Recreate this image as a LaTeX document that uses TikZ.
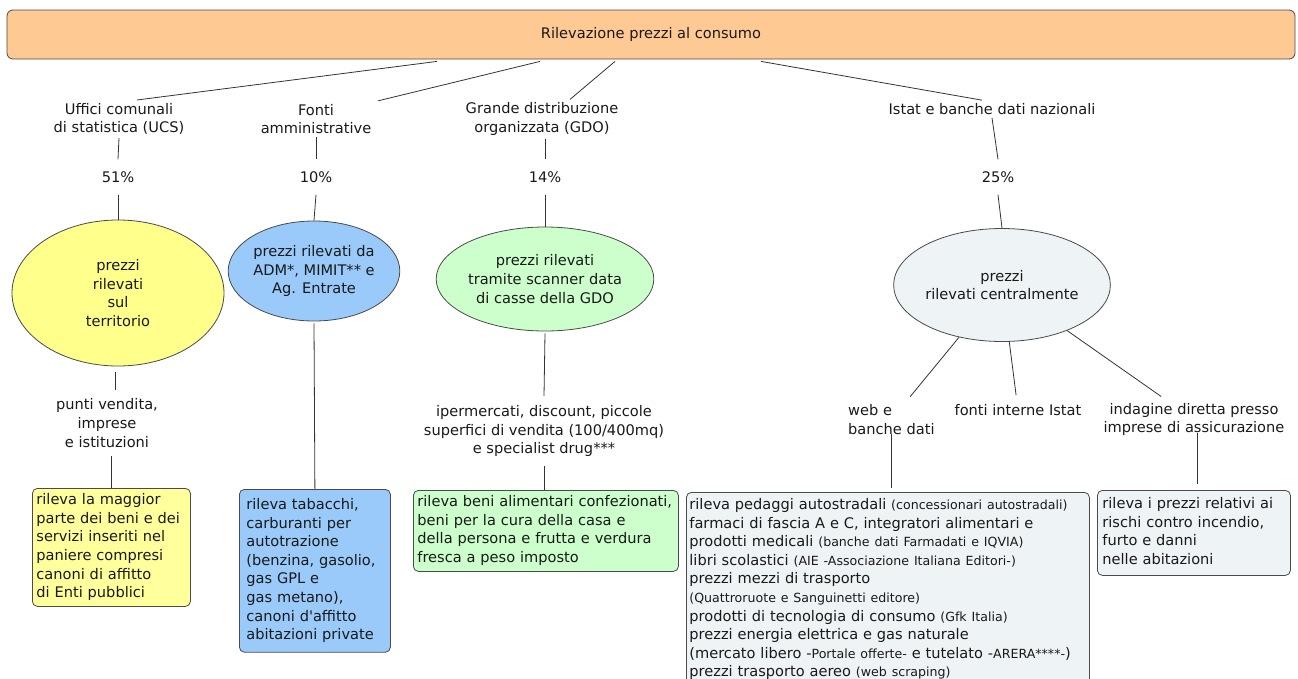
\documentclass[tikz,border=0pt]{standalone}
\usepackage{fontspec}
\setmainfont{DejaVu Sans}
\usetikzlibrary{shapes.geometric}
\definecolor{orng}{HTML}{FFC994}
\definecolor{ylell}{HTML}{FFFF8C}
\definecolor{ylbox}{HTML}{FFFF9C}
\definecolor{blell}{HTML}{99CAFA}
\definecolor{blbx}{HTML}{99CAFA}
\definecolor{grn}{HTML}{CCFFCC}
\definecolor{gry}{HTML}{EEF3F6}
\definecolor{edge}{HTML}{4A4A4A}
\definecolor{linec}{HTML}{333333}
\newcommand\mainsz{\fontsize{14.6}{18.6}\selectfont}
\newcommand\smsz{\fontsize{12.6}{18.6}\selectfont}
\newcommand\cardtext[1]{\noindent\begin{tabular}{@{}l@{}}#1\end{tabular}}
\begin{document}
\begin{tikzpicture}[x=1pt,y=-1pt,
  every node/.style={font=\mainsz, text=black!90},
  lbl/.style={align=center, inner xsep=2pt, inner ysep=3pt},
  pct/.style={inner xsep=2pt, inner ysep=12pt},
  lblt/.style={align=center, inner xsep=2pt, inner ysep=9pt},
  oval/.style={ellipse, draw=edge, line width=0.8pt, inner sep=0pt, align=center},
  card/.style={draw=edge, line width=0.8pt, rounded corners=5pt, anchor=north west},
  link/.style={draw=linec, line width=0.8pt}]
\useasboundingbox (0,0) rectangle (1298,678);
\clip (0,0) rectangle (1298,678);

% top
\node[draw=edge, line width=0.8pt, fill=orng, rounded corners=6pt, minimum width=1288pt, minimum height=49pt, inner sep=0pt] (top) at (651,34.5) {Rilevazione prezzi al consumo};

% first level labels
\node[lbl] (ucs) at (119,119) {Uffici comunali\\di statistica (UCS)};
\node[lbl] (fonti) at (316,119) {Fonti\\amministrative};
\node[lbl] (gdo) at (542,119) {Grande distribuzione\\organizzata (GDO)};
\node[lbl] (istat) at (992,109) {Istat e banche dati nazionali};

% percentages
\node[pct] (p51) at (118,177) {51\%};
\node[pct] (p10) at (316,177) {10\%};
\node[pct] (p14) at (545,177) {14\%};
\node[pct] (p25) at (998,177) {25\%};

% ellipses
\node[oval, fill=ylell, minimum width=212pt, minimum height=146pt] (yell) at (118,293) {prezzi\\rilevati\\sul\\territorio};
\node[oval, fill=blell, minimum width=168pt, minimum height=100pt] (bell) at (314,271) {prezzi rilevati da\\ADM*, MIMIT** e\\Ag. Entrate};
\node[oval, fill=grn, minimum width=184pt, minimum height=104pt] (gell) at (545,279) {prezzi rilevati\\tramite scanner data\\di casse della GDO};
\node[oval, fill=gry, minimum width=190pt, minimum height=113pt] (cell) at (1002,285) {prezzi\\rilevati centralmente};

% second level labels
\node[lblt] (punti) at (107,423) {punti vendita,\\imprese\\e istituzioni};
\node[lblt] (iper) at (544,431) {ipermercati, discount, piccole\\superfici di vendita (100/400mq)\\e specialist drug***};
\node[lbl, align=left, anchor=west] (web) at (846,419.5) {web e\\banche dati};
\node[lbl] (finterne) at (1018,410) {fonti interne Istat};
\node[lbl] (indag) at (1194,419.5) {indagine diretta presso\\imprese di assicurazione};

% cards
\node[card, fill=ylbox, text width=150pt, inner xsep=4pt, inner ysep=3.2pt] (ybox) at (32,488)
  {\cardtext{rileva la maggior\\parte dei beni e dei\\servizi inseriti nel\\paniere compresi\\canoni di affitto\\di Enti pubblici}};
\node[card, fill=blbx, text width=137pt, inner xsep=7pt, inner ysep=7pt] (blbox) at (239,489)
  {\cardtext{rileva tabacchi,\\carburanti per\\autotrazione\\(benzina, gasolio,\\gas GPL e\\gas metano),\\canoni d\textquotesingle affitto\\abitazioni private}};
\node[card, fill=grn, text width=257pt, inner xsep=4pt, inner ysep=3.3pt] (grbox) at (413,490)
  {\cardtext{rileva beni alimentari confezionati,\\beni per la cura della casa e\\della persona e frutta e verdura\\fresca a peso imposto}};
\node[card, fill=gry, text width=397pt, inner xsep=3pt, inner ysep=4pt] (gbbox) at (686,492)
  {\cardtext{rileva pedaggi autostradali {\smsz(concessionari autostradali)}\\
  farmaci di fascia A e C, integratori alimentari e\\
  prodotti medicali {\smsz(banche dati Farmadati e IQVIA)}\\
  libri scolastici {\smsz(AIE -Associazione Italiana Editori-)}\\
  prezzi mezzi di trasporto\\
  {\smsz(Quattroruote e Sanguinetti editore)}\\
  prodotti di tecnologia di consumo {\smsz(Gfk Italia)}\\
  prezzi energia elettrica e gas naturale\\
  (mercato libero -{\smsz Portale offerte-} e tutelato -{\smsz ARERA****-})\\
  prezzi trasporto aereo {\smsz(web scraping)}}};
\node[card, fill=gry, text width=183pt, inner xsep=5pt, inner ysep=5.3pt] (rbox) at (1097,490)
  {\cardtext{rileva i prezzi relativi ai\\rischi contro incendio,\\furto e danni\\nelle abitazioni}};

% connectors from top
\draw[link] ([xshift=-214pt,yshift=-2pt]top.south) -- ([xshift=18pt]ucs.north);
\draw[link] ([xshift=-111pt,yshift=-2pt]top.south) -- ([xshift=62pt]fonti.north);
\draw[link] ([xshift=-36pt,yshift=-2pt]top.south) -- ([xshift=28pt]gdo.north);
\draw[link] ([xshift=110pt,yshift=-2pt]top.south) -- ([xshift=-10pt]istat.north);

% UCS branch
\draw[link] (ucs.south) -- (p51.north);
\draw[link] (p51.south) -- (yell.north);
\draw[link] ([xshift=-3pt,yshift=-6pt]yell.south) -- ([xshift=8pt]punti.north);
\draw[link] (punti.south -| ybox.north) -- (ybox.north);

% Fonti branch
\draw[link] (fonti.south) -- (p10.north);
\draw[link] (p10.south) -- (bell.north);
\draw[link] ([yshift=-2pt]bell.south) -- (blbox.north);

% GDO branch
\draw[link] (p14.north |- gdo.south) -- (p14.north);
\draw[link] (p14.south) -- (gell.north);
\draw[link] ([yshift=-2pt]gell.south) -- (iper.north);
\draw[link] (iper.south) -- (iper.south |- grbox.north);

% Istat branch
\draw[link] (istat.south) -- (p25.north);
\draw[link] (p25.south) -- (cell.north);
\draw[link, shorten >=6pt] (cell) -- (web);
\draw[link, shorten >=6pt] (cell) -- (finterne);
\draw[link, shorten >=6pt] (cell) -- (indag);
\draw[link] ([yshift=4pt]web.south) -- ([yshift=4pt]web.south |- gbbox.north);
\draw[link] ([xshift=3pt,yshift=6pt]indag.south) -- ([xshift=3pt,yshift=6pt]indag.south |- rbox.north);
\end{tikzpicture}
\end{document}
